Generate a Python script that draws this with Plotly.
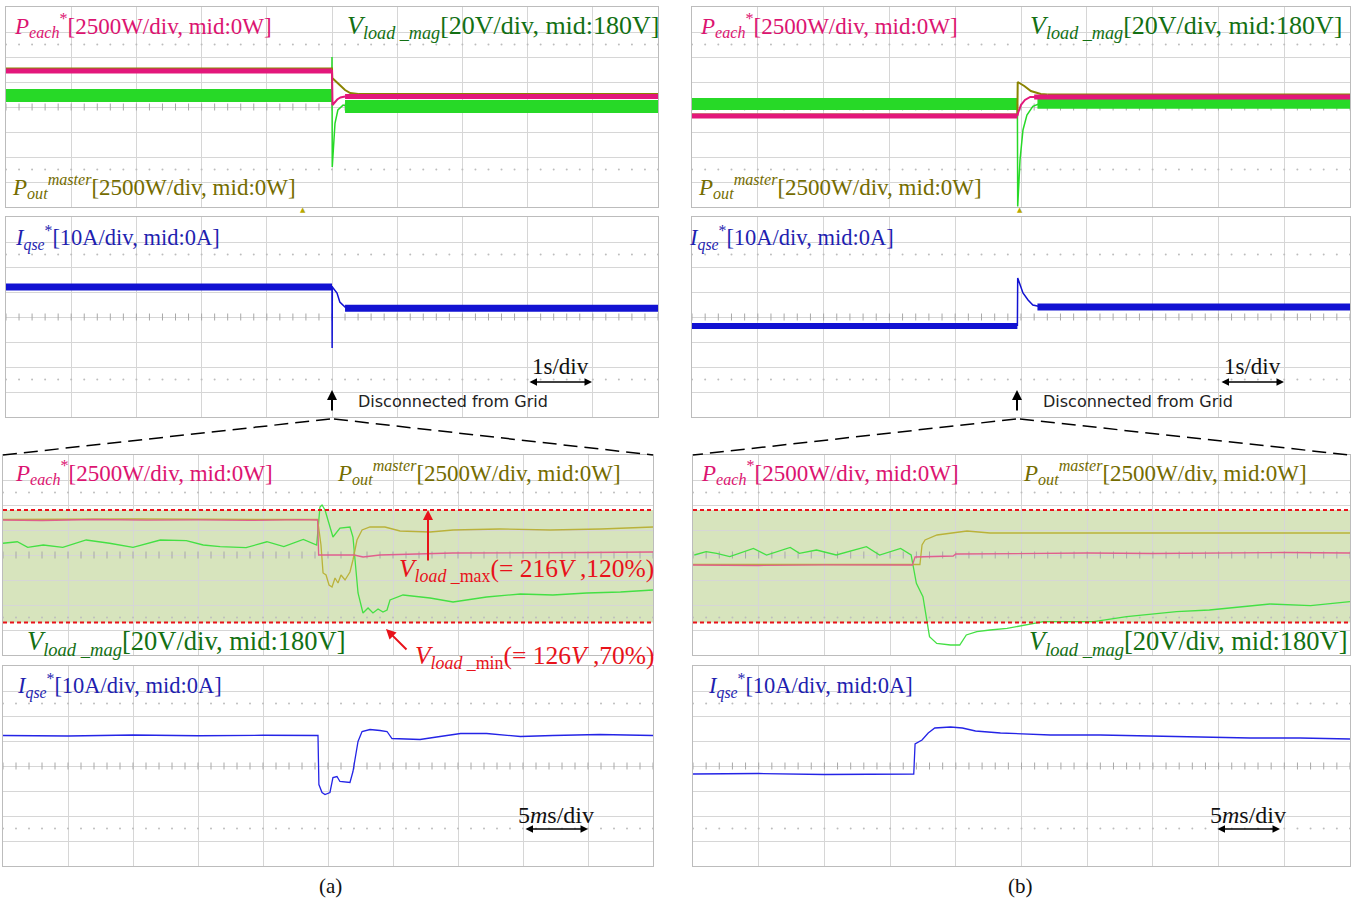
import numpy as np
import plotly.graph_objects as go

W, H = 1357, 904

# ======================= DATA =======================
# channel scales (per division) and mid values
P_DIV, P_MID = 2500.0, 0.0      # W
V_DIV, V_MID = 20.0, 180.0      # V
I_DIV, I_MID = 10.0, 0.0        # A
V_MAX, V_MIN = 216.0, 126.0     # V limits shown in the zoomed views

# ---------- (a) overview, 1 s/div, t in s ----------
a_ov_t_event = 0.0
a_ov_peach_pre, a_ov_peach_post = 3600, 1050
a_ov_peach_tr_t = [-0.004, 0.0, 0.008, 0.04, 0.08, 0.13, 0.2]
a_ov_peach_tr_w = [3600, 3600, 200, 500, 750, 950, 1050]
a_ov_pout_pre, a_ov_pout_post = 3850, 1300
a_ov_pout_tr_t = [-0.004, 0.0, 0.004, 0.1, 0.2, 0.28, 0.4]
a_ov_pout_tr_w = [3850, 3850, 2900, 2300, 1700, 1400, 1300]
a_ov_vload_pre, a_ov_vload_post = 189.2, 180.4
a_ov_vload_tr_t = [-0.004, 0.0, 0.004, 0.046, 0.09, 0.17, 0.25]
a_ov_vload_tr_v = [189.2, 220.0, 132.0, 167.0, 177.6, 181.5, 180.6]
a_ov_iqse_pre, a_ov_iqse_post = 12.0, 3.5
a_ov_iqse_tr_t = [-0.004, 0.0, 0.002, 0.005, 0.077, 0.12, 0.2, 0.28]
a_ov_iqse_tr_i = [12.0, 12.4, -12.4, 12.0, 9.6, 6.0, 4.0, 3.5]

# ---------- (b) overview, 1 s/div, t in s ----------
b_ov_t_event = -0.055
b_ov_peach_pre, b_ov_peach_post = -900, 1000
b_ov_peach_tr_t = [-0.055, -0.045, 0.0, 0.06, 0.14, 0.25]
b_ov_peach_tr_w = [-900, -600, 200, 700, 1000, 1000]
b_ov_pout_pre, b_ov_pout_post = -750, 1250
b_ov_pout_tr_t = [-0.055, -0.05, 0.05, 0.15, 0.3, 0.4]
b_ov_pout_tr_w = [-750, 2500, 2100, 1600, 1300, 1250]
b_ov_vload_pre, b_ov_vload_post = 182.4, 183.5
b_ov_vload_tr_t = [-0.055, -0.05, -0.015, 0.03, 0.09, 0.18, 0.3]
b_ov_vload_tr_v = [182.4, 100.5, 137.6, 161.6, 173.6, 180.5, 183.0]
b_ov_iqse_pre, b_ov_iqse_post = -3.6, 4.0
b_ov_iqse_tr_t = [-0.055, -0.05, 0.03, 0.107, 0.18, 0.3]
b_ov_iqse_tr_i = [-3.6, 15.6, 9.6, 6.8, 4.8, 4.1]

# ---------- (a) zoom, 5 ms/div, t in ms ----------
a_zm_peach_t = [-25, -22, -18, -14, -10, -6, -2, -0.8, -0.72, 0, 2.0, 2.7, 4.0, 9.6, 15, 20, 25]
a_zm_peach_w = [3500, 3450, 3550, 3480, 3520, 3460, 3530, 3500, 0, 0, 0, -200, 0, 200, 200, 250, 300]
a_zm_pout_t = [-25, -15, -5, -0.8, -0.54, -0.38, -0.15, 0.08, 0.31, 0.54, 0.77, 1.0, 1.31, 1.69,
               1.92, 2.23, 2.62, 3.23, 4.38, 5.54, 7.85, 9.62, 13.2, 17.1, 21.0, 25]
a_zm_pout_w = [3550, 3600, 3550, 3550, 1000, -1800, -2000, -3000, -3200, -2300, -2800, -2000, -2500, -1700,
               -500, 1500, 2500, 2800, 2800, 2400, 2300, 2500, 2600, 2500, 2600, 2800]
a_zm_vload_t = [-25, -23.9, -23.1, -21.9, -20.4, -18.6, -16.8, -15.0, -12.9, -10.9, -9.6, -8.3, -6.3, -4.7,
                -3.4, -1.9, -0.87, -0.62, -0.46, -0.38, -0.23, 0.38, 0.92, 1.69, 1.92, 2.31, 2.69, 3.08,
                3.46, 3.85, 4.23, 4.54, 4.77, 5.77, 7.85, 9.62, 12.2, 14.8, 17.3, 19.9, 22.5, 25]
a_zm_vload_v = [189.4, 190.6, 186.1, 188.0, 186.1, 192.0, 189.4, 186.1, 192.0, 191.5, 188.0, 186.7, 185.9, 190.6,
                186.7, 192.5, 188.0, 218.4, 220.0, 218.4, 216.0, 194.4, 201.6, 202.4, 194.4, 149.6, 133.6, 137.6,
                133.6, 136.8, 134.4, 136.0, 144.0, 148.0, 145.6, 142.4, 146.4, 148.8, 148.0, 149.6, 150.4, 152.0]
a_zm_iqse_t = [-25, -20, -15, -10, -5, -0.77, -0.7, -0.46, -0.23, 0.15, 0.38, 0.69, 0.92, 1.69, 1.92, 2.31,
               2.62, 3.23, 4.0, 4.54, 4.92, 7.08, 8.62, 10.2, 12.2, 14.8, 17.3, 20.9, 25]
a_zm_iqse_i = [12.2, 12.0, 12.4, 12.1, 12.3, 12.2, -7.4, -10.6, -11.4, -10.6, -4.6, -4.2, -6.2, -6.6, -2.2, 9.8,
               13.8, 14.6, 14.2, 13.8, 11.0, 10.6, 11.8, 13.0, 13.0, 11.8, 12.2, 12.6, 12.2]

# ---------- (b) zoom, 5 ms/div, t in ms ----------
b_zm_peach_t = [-25, -20, -15, -12, -8.3, -8.1, -6.5, -5.2, -5.0, 0, 5, 10, 15, 20, 25]
b_zm_peach_w = [-1000, -1050, -980, -1020, -1000, -200, -150, -100, 100, 150, 200, 150, 200, 250, 200]
b_zm_pout_t = [-25, -15, -7.73, -7.57, -7.34, -6.43, -4.91, -4.15, -2.4, 3, 10, 17, 25]
b_zm_pout_w = [-950, -950, -950, 1000, 1500, 2000, 2300, 2400, 2200, 2200, 2250, 2200, 2200]
b_zm_vload_t = [-24.9, -24.0, -23.2, -22.2, -20.4, -19.4, -17.6, -16.9, -15.6, -14.1, -11.8, -10.8, -9.2,
                -8.4, -8.0, -7.5, -7.0, -6.45, -5.4, -4.7, -4.2, -3.4, -2.4, -1.1, 1.66, 5.5, 8.0, 11.8,
                14.3, 18.9, 22.0, 25.0]
b_zm_vload_v = [180.0, 182.7, 181.3, 178.7, 185.3, 180.0, 186.1, 181.3, 184.0, 180.0, 186.7, 180.0, 185.3,
                180.0, 157.3, 146.7, 114.7, 109.3, 108.0, 108.0, 116.0, 118.7, 120.0, 121.3, 126.7, 126.7,
                130.7, 134.7, 136.0, 140.8, 139.5, 142.7]
b_zm_iqse_t = [-25, -20, -15, -10, -8.2, -8.1, -7.57, -7.1, -6.6, -5.4, -4.5, -3.5, -1.6, 2.2, 6.0, 9.8,
               13.6, 17.4, 21.2, 25]
b_zm_iqse_i = [-3.2, -3.0, -3.4, -3.1, -3.2, 8.8, 10.4, 13.2, 15.2, 15.6, 15.2, 14.0, 13.2, 12.4, 12.4,
               12.0, 11.6, 11.2, 11.2, 10.8]

# ======================= STYLE =======================
GRID = "#d6d6d6"
GRIDDK = "#a8a8a8"
BORDER = "#bcbcbc"
PINK_T, OLIVE_T, GREEN_T, BLUE_T = "#e3177b", "#8a8300", "#27d927", "#1212d2"
PINK_B, OLIVE_B, GREEN_B, BLUE_B = "#e0608c", "#bab23a", "#44e044", "#2424e6"
PINK_L, OLIVE_L, GREEN_L, BLUE_L = "#dc1471", "#746c00", "#137013", "#1f1fb0"
RED = "#e8121a"
SHADE = "#d7e4bd"
SERIF = "Liberation Serif"

fig = go.Figure()
layout = dict(width=W, height=H, margin=dict(l=0, r=0, t=0, b=0),
              paper_bgcolor="white", plot_bgcolor="white", showlegend=False)

# panels: pixel rectangles (x0, x1, y0, y1), time range, time per div, kind
PANELS = [
    ("a_ov_top", (6, 658, 7, 207), (-5, 5), 1.0, "VP"),
    ("a_ov_bot", (6, 658, 217, 417), (-5, 5), 1.0, "I"),
    ("a_zm_top", (3, 653, 455, 655), (-25, 25), 5.0, "VP"),
    ("a_zm_bot", (3, 653, 666, 866), (-25, 25), 5.0, "I"),
    ("b_ov_top", (692, 1350, 7, 207), (-5, 5), 1.0, "VP"),
    ("b_ov_bot", (692, 1350, 217, 417), (-5, 5), 1.0, "I"),
    ("b_zm_top", (693, 1350, 455, 655), (-25, 25), 5.0, "VP"),
    ("b_zm_bot", (693, 1350, 666, 866), (-25, 25), 5.0, "I"),
]

AX = {}
ov_num = len(PANELS) + 1
for n, (name, (x0, x1, y0, y1), tr, tdiv, kind) in enumerate(PANELS, start=1):
    xid = "x" if n == 1 else f"x{n}"
    yid = "y" if n == 1 else f"y{n}"
    xkey = "xaxis" if n == 1 else f"xaxis{n}"
    ykey = "yaxis" if n == 1 else f"yaxis{n}"
    layout[xkey] = dict(domain=[x0 / W, x1 / W], range=list(tr), dtick=tdiv, tick0=0, anchor=yid,
                        showgrid=True, gridcolor=GRID, gridwidth=1, zeroline=False, showline=True,
                        mirror=True, linecolor=BORDER, linewidth=1, showticklabels=False, ticks="",
                        fixedrange=True)
    if kind == "VP":
        ydiv, ymid = V_DIV, V_MID
    else:
        ydiv, ymid = I_DIV, I_MID
    layout[ykey] = dict(domain=[1 - y1 / H, 1 - y0 / H], range=[ymid - 4 * ydiv, ymid + 4 * ydiv],
                        dtick=ydiv, tick0=ymid, anchor=xid, showgrid=True, gridcolor=GRID, gridwidth=1,
                        zeroline=False, showline=True, mirror=True, linecolor=BORDER, linewidth=1,
                        showticklabels=False, ticks="", fixedrange=True)
    pid = None
    if kind == "VP":
        pid = f"y{ov_num}"
        layout[f"yaxis{ov_num}"] = dict(overlaying=yid, anchor=xid,
                                        range=[P_MID - 4 * P_DIV, P_MID + 4 * P_DIV],
                                        visible=False, fixedrange=True)
        ov_num += 1
    AX[name] = dict(x=xid, y=yid, p=pid, tr=tr, tdiv=tdiv, ydiv=ydiv, ymid=ymid)

    # center tick marks and dotted rows
    step = tdiv / 5
    xs = np.arange(tr[0], tr[1] + step / 2, step)
    fig.add_trace(go.Scatter(x=xs, y=np.full(len(xs), ymid), mode="markers",
                             marker=dict(symbol="line-ns", size=5, line=dict(width=1, color=GRIDDK)),
                             xaxis=xid, yaxis=yid, hoverinfo="skip"))
    for r in (2.5, -2.5):
        fig.add_trace(go.Scatter(x=xs, y=np.full(len(xs), ymid + r * ydiv), mode="markers",
                                 marker=dict(symbol="circle", size=2, color="#bdbdbd"),
                                 xaxis=xid, yaxis=yid, hoverinfo="skip"))


def add_line(panel, which, t, v, color, width):
    a = AX[panel]
    yax = a["p"] if which == "P" else a["y"]
    fig.add_trace(go.Scatter(x=t, y=v, mode="lines", line=dict(color=color, width=width),
                             xaxis=a["x"], yaxis=yax, hoverinfo="skip"))


def add_band(panel, which, t0, t1, val, color, width):
    add_line(panel, which, [t0, t1], [val, val], color, width)


# ---------------- overview (a) ----------------
te = a_ov_t_event
add_band("a_ov_top", "V", -5, te, a_ov_vload_pre, GREEN_T, 13)
add_band("a_ov_top", "V", 0.2, 5, a_ov_vload_post, GREEN_T, 13)
add_line("a_ov_top", "V", a_ov_vload_tr_t, a_ov_vload_tr_v, GREEN_T, 1.5)
add_band("a_ov_top", "P", -5, te, a_ov_pout_pre, OLIVE_T, 2)
add_band("a_ov_top", "P", 0.4, 5, a_ov_pout_post, OLIVE_T, 2)
add_line("a_ov_top", "P", a_ov_pout_tr_t, a_ov_pout_tr_w, OLIVE_T, 2)
add_band("a_ov_top", "P", -5, te, a_ov_peach_pre, PINK_T, 5)
add_band("a_ov_top", "P", 0.2, 5, a_ov_peach_post, PINK_T, 5)
add_line("a_ov_top", "P", a_ov_peach_tr_t, a_ov_peach_tr_w, PINK_T, 2)
add_band("a_ov_bot", "I", -5, te, a_ov_iqse_pre, BLUE_T, 7)
add_band("a_ov_bot", "I", 0.2, 5, a_ov_iqse_post, BLUE_T, 7)
add_line("a_ov_bot", "I", a_ov_iqse_tr_t, a_ov_iqse_tr_i, BLUE_T, 1.5)

# ---------------- overview (b) ----------------
te = b_ov_t_event
add_band("b_ov_top", "V", -5, te, b_ov_vload_pre, GREEN_T, 12)
add_band("b_ov_top", "V", 0.25, 5, b_ov_vload_post, GREEN_T, 12)
add_line("b_ov_top", "V", b_ov_vload_tr_t, b_ov_vload_tr_v, GREEN_T, 1.5)
add_band("b_ov_top", "P", -5, te, b_ov_pout_pre, OLIVE_T, 2)
add_band("b_ov_top", "P", 0.4, 5, b_ov_pout_post, OLIVE_T, 2)
add_line("b_ov_top", "P", b_ov_pout_tr_t, b_ov_pout_tr_w, OLIVE_T, 2)
add_band("b_ov_top", "P", -5, te, b_ov_peach_pre, PINK_T, 5)
add_band("b_ov_top", "P", 0.2, 5, b_ov_peach_post, PINK_T, 5)
add_line("b_ov_top", "P", b_ov_peach_tr_t, b_ov_peach_tr_w, PINK_T, 2)
add_band("b_ov_bot", "I", -5, te, b_ov_iqse_pre, BLUE_T, 6)
add_band("b_ov_bot", "I", 0.25, 5, b_ov_iqse_post, BLUE_T, 7)
add_line("b_ov_bot", "I", b_ov_iqse_tr_t, b_ov_iqse_tr_i, BLUE_T, 1.5)

# ---------------- zoomed (a) and (b) ----------------
for side, pk_t, pk_w, po_t, po_w, vl_t, vl_v, iq_t, iq_i in (
        ("a", a_zm_peach_t, a_zm_peach_w, a_zm_pout_t, a_zm_pout_w, a_zm_vload_t, a_zm_vload_v,
         a_zm_iqse_t, a_zm_iqse_i),
        ("b", b_zm_peach_t, b_zm_peach_w, b_zm_pout_t, b_zm_pout_w, b_zm_vload_t, b_zm_vload_v,
         b_zm_iqse_t, b_zm_iqse_i)):
    add_line(f"{side}_zm_top", "V", vl_t, vl_v, GREEN_B, 1.3)
    add_line(f"{side}_zm_top", "P", po_t, po_w, OLIVE_B, 1.3)
    add_line(f"{side}_zm_top", "P", pk_t, pk_w, PINK_B, 1.3)
    add_line(f"{side}_zm_bot", "I", iq_t, iq_i, BLUE_B, 1.3)

# ---------------- shapes ----------------
shapes = []
for side in ("a", "b"):
    a = AX[f"{side}_zm_top"]
    shapes.append(dict(type="rect", xref=f"{a['x']} domain", yref=a["y"], x0=0, x1=1,
                       y0=V_MIN, y1=V_MAX, fillcolor=SHADE, line=dict(width=0), layer="below"))
    for lv in (V_MAX, V_MIN):
        shapes.append(dict(type="line", xref=f"{a['x']} domain", yref=a["y"], x0=0, x1=1,
                           y0=lv, y1=lv, line=dict(color=RED, width=2, dash="4px,3px"), layer="above"))


def P(x, y):
    return x / W, 1 - y / H


# dashed zoom connector lines
for (xa, ya, xb, yb) in ((330, 419, 3, 455), (334, 419, 653, 455),
                         (1016, 419, 693, 455), (1020, 419, 1350, 455)):
    (X0, Y0), (X1, Y1) = P(xa, ya), P(xb, yb)
    shapes.append(dict(type="line", xref="paper", yref="paper", x0=X0, y0=Y0, x1=X1, y1=Y1,
                       line=dict(color="black", width=1.5, dash="14px,7px")))
layout["shapes"] = shapes

# ---------------- annotations ----------------
ann = []


def text(x, y, s, size, color, family=SERIF, xanchor="left"):
    X, Y = P(x, y)
    ann.append(dict(x=X, y=Y, xref="paper", yref="paper", text=s, showarrow=False,
                    xanchor=xanchor, yanchor="middle", font=dict(family=family, size=size, color=color)))


def arrow(xh, yh, ax, ay, color, width=1.5, side="end"):
    X, Y = P(xh, yh)
    ann.append(dict(x=X, y=Y, xref="paper", yref="paper", text="", showarrow=True, ax=ax, ay=ay,
                    arrowhead=2, arrowsize=1, arrowwidth=width, arrowcolor=color, arrowside=side,
                    standoff=0, startstandoff=0))


L_PEACH = f"<i>P</i><sub><i>each</i></sub><sup>*</sup>[{P_DIV:.0f}W/div, mid:{P_MID:.0f}W]"
L_POUT = f"<i>P</i><sub><i>out</i></sub><sup><i>master</i></sup>[{P_DIV:.0f}W/div, mid:{P_MID:.0f}W]"
L_VLOAD = f"<i>V</i><sub><i>load _mag</i></sub>[{V_DIV:.0f}V/div, mid:{V_MID:.0f}V]"
L_IQSE = f"<i>I</i><sub><i>qse</i></sub><sup>*</sup>[{I_DIV:.0f}A/div, mid:{I_MID:.0f}A]"
L_VMAX = f"<i>V</i><sub><i>load</i> _max</sub>(= {V_MAX:.0f}<i>V</i> ,120%)"
L_VMIN = f"<i>V</i><sub><i>load</i> _min</sub>(= {V_MIN:.0f}<i>V</i> ,70%)"

for dx in (0, 686):
    # overview
    text(12 + dx, 26, L_PEACH, 23, PINK_L)
    text(345 + dx - (3 if dx else 0), 27, L_VLOAD, 26, GREEN_L)
    text(10 + dx, 187, L_POUT, 23, OLIVE_L)
    text(13 + dx - 12 * (dx > 0), 238, L_IQSE, 22.5, BLUE_L)
    # zoom
    text(13 + dx, 473, L_PEACH, 23, PINK_L)
    text(335 + dx, 473, L_POUT, 23, OLIVE_L)
    text(15 + dx + 5 * (dx > 0), 686, L_IQSE, 22.5, BLUE_L)

text(25, 643, L_VLOAD, 26.5, GREEN_L)
text(1027, 643, L_VLOAD, 26.5, GREEN_L)

# red limit annotations (a)
text(397, 570, L_VMAX, 25.5, RED)
text(413, 657, L_VMIN, 25.5, RED)
arrow(428, 510, 0, 52, RED, 2)
arrow(386, 629, 22, 22, RED, 2)

# disconnection markers
for xe, xt in ((332, 356), (1017, 1041)):
    arrow(xe, 390, 0, 22, "black", 2)
    text(xt, 401, "Disconnected from Grid", 16, "#222222", family="DejaVu Sans")

# time-scale legends
for xc in (560, 1252):
    text(xc, 366, "1s/div", 23, "#111111", xanchor="center")
    arrow(xc + 32, 382, -64, 0, "black", 1.5, side="end+start")
    text(xc - 4, 815, "5<i>m</i>s/div", 24, "#111111", xanchor="center")
    arrow(xc + 28, 829, -64, 0, "black", 1.5, side="end+start")

# trigger markers
for xm in (303, 1020):
    text(xm, 210, "▲", 7, "#b8a800", family="DejaVu Sans", xanchor="center")

text(330, 886, "(a)", 21, "#111111", xanchor="center")
text(1020, 886, "(b)", 21, "#111111", xanchor="center")

layout["annotations"] = ann
fig.update_layout(**layout)
fig.write_html("out.html", config={"displayModeBar": False, "responsive": False},
               post_script="document.body.style.margin='0';document.body.style.overflow='hidden';")
